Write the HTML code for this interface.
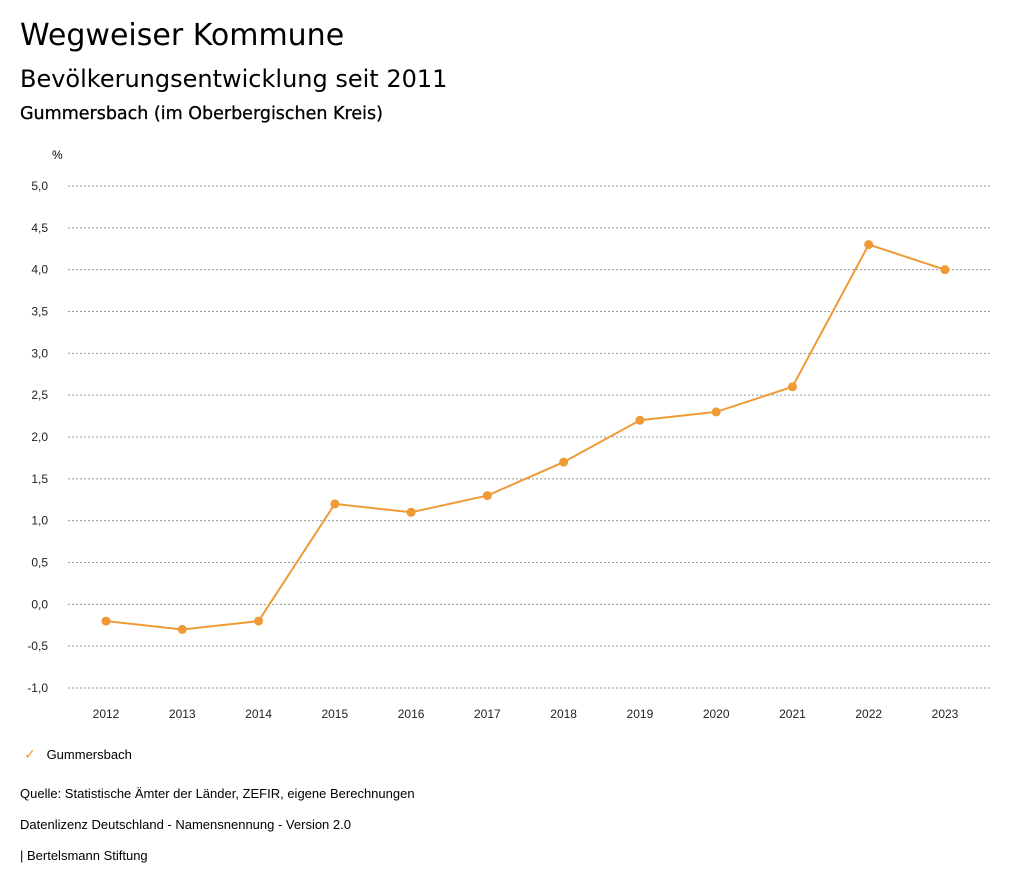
<!DOCTYPE html>
<html><head><meta charset="utf-8"><style>
body{margin:0;width:1024px;height:888px;background:#fff;font-family:"Liberation Sans",sans-serif;color:#000;position:relative;overflow:hidden}
.t{position:absolute;white-space:nowrap}
.d{font-family:"DejaVu Sans",sans-serif}
</style></head><body>
<div class="t d" style="left:20px;top:18px;font-size:30px">Wegweiser Kommune</div>
<div class="t d" style="left:20px;top:65px;font-size:24px">Bevölkerungsentwicklung seit 2011</div>
<div class="t d" style="left:20px;top:104px;font-size:17.5px;-webkit-text-stroke:0.3px #000">Gummersbach (im Oberbergischen Kreis)</div>
<svg id="c" width="1024" height="888" style="position:absolute;left:0;top:0" font-family="Liberation Sans, sans-serif"></svg>
<div class="t" style="left:24px;top:746px;font-size:13px"><span style="color:#ef9a35;font-size:14px">✓</span>&nbsp;&nbsp;&nbsp;Gummersbach</div>
<div class="t" style="left:20px;top:786px;font-size:13px">Quelle: Statistische Ämter der Länder, ZEFIR, eigene Berechnungen</div>
<div class="t" style="left:20px;top:817px;font-size:13px">Datenlizenz Deutschland - Namensnennung - Version 2.0</div>
<div class="t" style="left:20px;top:848px;font-size:13px">| Bertelsmann Stiftung</div>
<script>
const years=["2012","2013","2014","2015","2016","2017","2018","2019","2020","2021","2022","2023"];
const values=[-0.2,-0.3,-0.2,1.2,1.1,1.3,1.7,2.2,2.3,2.6,4.3,4.0];
const yTicks=[-1,-0.5,0,0.5,1,1.5,2,2.5,3,3.5,4,4.5,5];
const svg=document.getElementById('c');const NS='http://www.w3.org/2000/svg';
const y=v=>688-(v+1)*(502/6);
const x=i=>106+i*(839/11);
function mk(t,a){const e=document.createElementNS(NS,t);for(const k in a)e.setAttribute(k,a[k]);svg.appendChild(e);return e;}
let u=mk('text',{x:52,y:159,'font-size':12});u.textContent='%';


yTicks.forEach(v=>{
 const g=mk('line',{x1:68,x2:990,y1:y(v),y2:y(v),stroke:'#999','stroke-dasharray':'2,2','stroke-width':1});
 
 
 const t=mk('text',{x:48,y:y(v)+4,'font-size':12,'text-anchor':'end',fill:'#222'});
 t.textContent=v.toFixed(1).replace('.',',');
 
 
});
years.forEach((yr,i)=>{
 const t=mk('text',{x:x(i),y:718,'font-size':12,'text-anchor':'middle',fill:'#222'});
 t.textContent=yr;
 
 
});
const p=mk('polyline',{points:values.map((v,i)=>x(i)+','+y(v)).join(' '),fill:'none',stroke:'#ef9a35','stroke-width':2});


values.forEach((v,i)=>{
 const c=mk('circle',{cx:x(i),cy:y(v),r:4.5,fill:'#ef9a35'});
 
 
});
</script>
</body></html>
